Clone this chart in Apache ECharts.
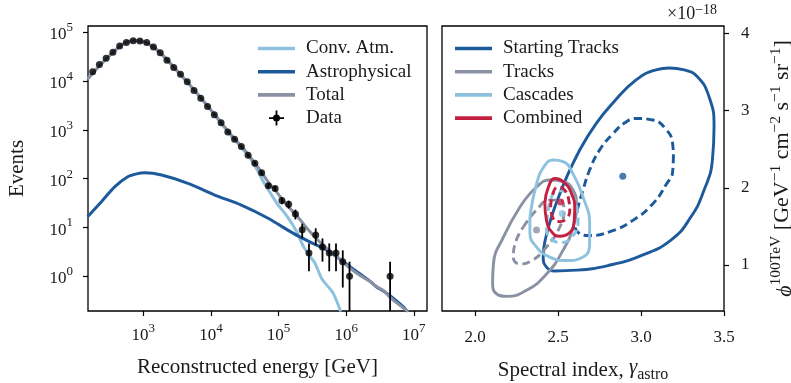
<!DOCTYPE html>
<html>
<head>
<meta charset="utf-8">
<script src="https://cdn.jsdelivr.net/npm/echarts@6/dist/echarts.min.js"></script>
<style>
html, body { margin: 0; padding: 0; background: #fff; }
#chart { width: 791px; height: 383px; }
</style>
</head>
<body>
<div id="chart"></div>
<script>
// ---------- Left panel: event counts vs reconstructed energy ----------
const dataEnergy = [178, 224, 282, 355, 447, 562, 708, 891, 1122, 1413, 1778, 2239, 2818, 3548,
  4467, 5623, 7079, 8913, 11220, 14130, 17780, 22390, 28180, 35480, 44670, 56230, 70790, 89130,
  112200, 141300, 177800, 223900, 281800, 354800, 446700, 562300, 707900, 891300, 1122000, 4467000];
const dataEvents = [15500, 21900, 29500, 38900, 52500, 61700, 67600, 66100, 61700, 50100, 38000,
  26900, 19100, 13800, 9770, 6460, 4470, 3020, 2040, 1410, 912, 646, 457, 302, 209, 132, 72, 63,
  36, 30, 19, 9, 3, 7, 4, 3, 3, 2, 1, 1];
const dataErr = [124, 148, 172, 197, 229, 248, 260, 257, 248, 224, 195, 164, 138, 117, 98.8, 80.4,
  66.9, 55, 45.2, 37.5, 30.2, 25.4, 21.4, 17.4, 14.5, 11.5, 8.5, 7.9, 6, 5.5, 4.36, 3, 1.73, 2.65,
  2, 1.73, 1.73, 1.41, 1, 1];

const convAtm = [[150, 11000], [200, 17400], [316, 33100], [501, 57500], [708, 67600], [1000, 64600],
  [1413, 50100], [1995, 32400], [3162, 16200], [5012, 7940], [7943, 3720], [12590, 1700],
  [19950, 759], [31620, 363], [39810, 240], [50120, 138], [63100, 75.9], [79430, 45.7],
  [100000, 28.2], [125900, 19.1], [158500, 12.0], [186200, 8.1], [234400, 4.07], [295100, 2.51],
  [346700, 1.86], [436500, 0.89], [549500, 0.60], [645700, 0.447], [831800, 0.19]];
const astro = [[150, 16.6], [240, 33.9], [380, 69.2], [589, 110], [794, 126], [1047, 132],
  [1862, 119], [4571, 80.4], [11380, 46.4], [28180, 28.8], [69980, 15.5], [165600, 7.59],
  [316200, 4.79], [516400, 3.47], [1143000, 1.57], [2254000, 0.794], [2818000, 0.603],
  [3548000, 0.501], [5012000, 0.355], [7079000, 0.234], [7943000, 0.19]];
const total = [[150, 11000], [200, 17400], [316, 33100], [501, 57500], [708, 67600], [1000, 64700],
  [1413, 50200], [1995, 32500], [3162, 16300], [5012, 8000], [7943, 3760], [12590, 1740],
  [19950, 790], [31620, 390], [39810, 257], [53210, 151], [70790, 85], [93330, 53.7],
  [125900, 31.6], [186200, 17.4], [292400, 8.2], [398100, 5.25], [516400, 3.75], [707900, 2.63],
  [1000000, 1.70], [1585000, 1.05], [2239000, 0.79], [2818000, 0.617], [3548000, 0.513],
  [4467000, 0.372], [6310000, 0.251], [8318000, 0.19]];
const energyTicks = [1e3, 1e4, 1e5, 1e6, 1e7];
const eventTicks = [1, 10, 100, 1000, 10000, 100000];

// ---------- Right panel: (gamma, phi) confidence contours ----------
const startSolid = [[2.63, 2.49], [2.73, 2.835], [2.83, 3.10], [2.97, 3.40], [3.09, 3.53], [3.17, 3.555],
  [3.26, 3.53], [3.34, 3.44], [3.41, 3.18], [3.44, 2.80], [3.43, 2.36], [3.38, 1.97], [3.30, 1.62],
  [3.18, 1.32], [3.00, 1.12], [2.80, 0.99], [2.61, 0.93], [2.48, 0.92], [2.43, 0.97], [2.41, 1.10],
  [2.42, 1.30], [2.46, 1.62], [2.51, 1.92], [2.56, 2.18], [2.63, 2.49]];
const startDashed = [[3.195, 2.42], [3.19, 2.20], [3.155, 2.054], [3.074, 1.80], [2.953, 1.58],
  [2.812, 1.43], [2.69, 1.38], [2.62, 1.42], [2.60, 1.56], [2.62, 1.75], [2.65, 1.97], [2.69, 2.23],
  [2.75, 2.49], [2.83, 2.70], [2.90, 2.84], [2.97, 2.90], [3.07, 2.88], [3.15, 2.76], [3.19, 2.58],
  [3.195, 2.42]];
const tracksSolid = [[2.27, 1.75], [2.37, 2.01], [2.45, 2.10], [2.53, 2.08], [2.59, 1.97], [2.61, 1.79],
  [2.59, 1.49], [2.53, 1.19], [2.43, 0.88], [2.31, 0.67], [2.19, 0.59], [2.13, 0.62], [2.105, 0.76],
  [2.11, 1.01], [2.17, 1.36], [2.27, 1.75]];
const tracksDashed = [[2.29, 1.49], [2.37, 1.71], [2.45, 1.84], [2.51, 1.84], [2.535, 1.71], [2.51, 1.49],
  [2.43, 1.23], [2.33, 1.04], [2.27, 1.01], [2.23, 1.10], [2.24, 1.27], [2.29, 1.49]];
const cascSolid = [[2.33, 1.62], [2.37, 2.05], [2.42, 2.29], [2.47, 2.36], [2.53, 2.34], [2.59, 2.18],
  [2.65, 1.88], [2.69, 1.53], [2.69, 1.27], [2.65, 1.10], [2.55, 1.055], [2.45, 1.10], [2.37, 1.23],
  [2.33, 1.42], [2.33, 1.62]];
const cascDashed = [[2.44, 1.70], [2.46, 1.88], [2.50, 1.96], [2.57, 1.92], [2.61, 1.78], [2.62, 1.55],
  [2.58, 1.35], [2.52, 1.29], [2.46, 1.33], [2.43, 1.47], [2.44, 1.70]];
const combSolid = [[2.42, 1.80], [2.44, 2.00], [2.48, 2.12], [2.53, 2.08], [2.58, 1.93], [2.60, 1.72],
  [2.595, 1.53], [2.56, 1.40], [2.51, 1.37], [2.46, 1.43], [2.43, 1.58], [2.42, 1.80]];
const combDashed = [[2.455, 1.75], [2.465, 1.90], [2.50, 2.01], [2.54, 1.97], [2.565, 1.83], [2.57, 1.70],
  [2.55, 1.60], [2.51, 1.56], [2.47, 1.60], [2.455, 1.75]];
const bestFit = { start: [2.89, 2.15], tracks: [2.37, 1.45], casc: [2.525, 1.665], comb: [2.515, 1.815] };
const gammaTicks = [2.0, 2.5, 3.0, 3.5];
const phiTicks = [1, 2, 3, 4];

// ---------- styling ----------
const FONT = "'Liberation Serif', 'DejaVu Serif', serif";
const INK = '#1a1a1a';
const C_DARK = '#1d5a9b', C_GRAY = '#8a91a3', C_LIGHT = '#8ec1de', C_RED = '#c51f40';
const TICK_FS = 17, LEGEND_FS = 19, NAME_FS = 21;

const supRich = {
  b: { fontSize: TICK_FS, fontFamily: FONT, color: INK, lineHeight: 22, verticalAlign: 'bottom' },
  s: { fontSize: 13, fontFamily: FONT, color: INK, lineHeight: 22, verticalAlign: 'top' }
};
const powLabel = v => '{b|10}{s|' + Math.round(Math.log10(v)) + '}';

const tickStyle = len => ({ show: true, length: len, lineStyle: { color: '#000', width: 1.2 } });

const linePath = 'path://M0,0H37V3.6H0Z';
const dataPath = 'path://M6.6,0H8.4V15H6.6Z M0,6.6H15V8.4H0Z M4,7.5A3.5,3.5 0 1,1 11,7.5A3.5,3.5 0 1,1 4,7.5Z';

function contour(name, data, color, dashed) {
  return {
    type: 'line', name, xAxisIndex: 1, yAxisIndex: 1, data, smooth: 0.5,
    showSymbol: false, symbol: 'none', z: 3,
    lineStyle: { color, width: 2.9, type: dashed ? [8, 4.5] : 'solid', cap: 'butt' },
    itemStyle: { color }
  };
}
function dot(name, pt, color) {
  return { type: 'scatter', name, xAxisIndex: 1, yAxisIndex: 1, data: [pt], symbolSize: 7,
    itemStyle: { color }, z: 4 };
}

const legendText = { fontSize: LEGEND_FS, fontFamily: FONT, color: INK, lineHeight: 15, padding: [0, 0, 0, 6] };

const chart = echarts.init(document.getElementById('chart'), null, { renderer: 'canvas' });
chart.setOption({
  animation: false,
  backgroundColor: '#fff',
  textStyle: { fontFamily: FONT },
  grid: [
    { left: 88, top: 26, width: 339, height: 285, show: true, borderColor: '#000', borderWidth: 1.3,
      backgroundColor: 'transparent', outerBoundsMode: 'none', containLabel: false },
    { left: 442, top: 26, width: 282, height: 285, show: true, borderColor: '#000', borderWidth: 1.3,
      backgroundColor: 'transparent', outerBoundsMode: 'none', containLabel: false }
  ],
  xAxis: [
    {
      type: 'log', logBase: 10, gridIndex: 0, min: 152, max: 15700000,
      axisLine: { show: false }, splitLine: { show: false },
      axisTick: Object.assign(tickStyle(5), { customValues: energyTicks }),
      axisLabel: { customValues: energyTicks, formatter: powLabel, rich: supRich, margin: 11 },
      name: 'Reconstructed energy [GeV]', nameLocation: 'middle', nameGap: 46,
      nameTextStyle: { fontSize: NAME_FS, fontFamily: FONT, color: INK }
    },
    {
      type: 'value', gridIndex: 1, min: 1.8, max: 3.5,
      axisLine: { show: false }, splitLine: { show: false },
      axisTick: Object.assign(tickStyle(5), { customValues: gammaTicks }),
      axisLabel: { customValues: gammaTicks, formatter: v => v.toFixed(1), fontSize: TICK_FS, color: INK, fontFamily: FONT, margin: 18 },
      name: 'Spectral index, {g|γ}{sub|astro}', nameLocation: 'middle', nameGap: 46,
      nameTextStyle: { fontSize: NAME_FS, fontFamily: FONT, color: INK,
        rich: {
          g: { fontSize: NAME_FS, fontFamily: FONT, fontStyle: 'italic', color: INK, lineHeight: 26, verticalAlign: 'top' },
          sub: { fontSize: 16, fontFamily: FONT, color: INK, lineHeight: 26, verticalAlign: 'bottom' }
        } }
    }
  ],
  yAxis: [
    {
      type: 'log', logBase: 10, gridIndex: 0, min: 0.195, max: 134900,
      axisLine: { show: false }, splitLine: { show: false },
      axisTick: Object.assign(tickStyle(5), { customValues: eventTicks }),
      axisLabel: { customValues: eventTicks, formatter: powLabel, rich: supRich, margin: 15 },
      name: 'Events', nameLocation: 'middle', nameGap: 60, nameRotate: 90,
      nameTextStyle: { fontSize: NAME_FS, fontFamily: FONT, color: INK }
    },
    {
      type: 'value', gridIndex: 1, position: 'right', min: 0.4, max: 4.1,
      axisLine: { show: false }, splitLine: { show: false },
      axisTick: Object.assign(tickStyle(5), { customValues: phiTicks }),
      axisLabel: { customValues: phiTicks, fontSize: TICK_FS, color: INK, fontFamily: FONT, margin: 17 },
      name: '{p|ϕ}{s|100TeV} [GeV{s|−1} cm{s|−2} s{s|−1} sr{s|−1}]',
      nameLocation: 'middle', nameGap: 44, nameRotate: 90,
      nameTextStyle: { fontSize: 22, fontFamily: FONT, color: INK,
        rich: {
          p: { fontSize: 22, fontFamily: FONT, fontStyle: 'italic', color: INK, lineHeight: 28, verticalAlign: 'bottom' },
          s: { fontSize: 15.5, fontFamily: FONT, color: INK, lineHeight: 28, verticalAlign: 'top' }
        } }
    }
  ],
  legend: [
    {
      orient: 'vertical', left: 258, top: 39, itemWidth: 37, itemHeight: 15, itemGap: 4.2, padding: 0,
      symbolKeepAspect: true, textStyle: legendText,
      data: [
        { name: 'Conv. Atm.', icon: linePath },
        { name: 'Astrophysical', icon: linePath },
        { name: 'Total', icon: linePath },
        { name: 'Data', icon: dataPath }
      ]
    },
    {
      orient: 'vertical', left: 455, top: 39, itemWidth: 37, itemHeight: 15, itemGap: 4.2, padding: 0,
      symbolKeepAspect: true, textStyle: legendText,
      data: [
        { name: 'Starting Tracks', icon: linePath },
        { name: 'Tracks', icon: linePath },
        { name: 'Cascades', icon: linePath },
        { name: 'Combined', icon: linePath }
      ]
    }
  ],
  graphic: [
    {
      type: 'text', left: 667, top: 3,
      style: {
        text: '×10{s|−18}', fill: INK, font: '18px ' + FONT,
        rich: {
          s: { fontSize: 14, fontFamily: FONT, fill: INK, lineHeight: 22, verticalAlign: 'top' }
        },
        lineHeight: 22, verticalAlign: 'bottom'
      }
    }
  ],
  series: [
    { type: 'line', name: 'Conv. Atm.', xAxisIndex: 0, yAxisIndex: 0, data: convAtm, smooth: 0.3,
      showSymbol: false, symbol: 'none', lineStyle: { color: C_LIGHT, width: 3 }, itemStyle: { color: C_LIGHT }, z: 2 },
    { type: 'line', name: 'Astrophysical', xAxisIndex: 0, yAxisIndex: 0, data: astro, smooth: 0.3,
      showSymbol: false, symbol: 'none', lineStyle: { color: C_DARK, width: 3 }, itemStyle: { color: C_DARK }, z: 2 },
    { type: 'line', name: 'Total', xAxisIndex: 0, yAxisIndex: 0, data: total, smooth: 0.3,
      showSymbol: false, symbol: 'none', lineStyle: { color: C_GRAY, width: 3 }, itemStyle: { color: C_GRAY }, z: 2 },
    {
      type: 'custom', name: 'Data', xAxisIndex: 0, yAxisIndex: 0, clip: true, z: 3,
      itemStyle: { color: '#000' },
      data: dataEnergy.map((e, i) => [e, dataEvents[i], dataErr[i]]),
      renderItem(params, api) {
        const e = api.value(0), n = api.value(1), s = api.value(2);
        const top = api.coord([e, n + s]);
        const bot = api.coord([e, Math.max(n - s, 1e-3)]);
        return { type: 'line', shape: { x1: top[0], y1: top[1], x2: bot[0], y2: bot[1] },
          style: { stroke: '#000', lineWidth: 1.8 } };
      }
    },
    { type: 'scatter', name: 'Data', xAxisIndex: 0, yAxisIndex: 0, symbolSize: 7, z: 4,
      itemStyle: { color: '#000' },
      data: dataEnergy.map((e, i) => [e, dataEvents[i]]) },

    contour('Starting Tracks', startSolid, C_DARK, false),
    contour('Starting Tracks', startDashed, C_DARK, true),
    dot('Starting Tracks', bestFit.start, C_DARK),
    contour('Tracks', tracksSolid, C_GRAY, false),
    contour('Tracks', tracksDashed, C_GRAY, true),
    dot('Tracks', bestFit.tracks, C_GRAY),
    contour('Cascades', cascSolid, C_LIGHT, false),
    contour('Cascades', cascDashed, C_LIGHT, true),
    dot('Cascades', bestFit.casc, C_LIGHT),
    contour('Combined', combSolid, C_RED, false),
    contour('Combined', combDashed, C_RED, true),
    dot('Combined', bestFit.comb, C_RED)
  ]
});
</script>
</body>
</html>
